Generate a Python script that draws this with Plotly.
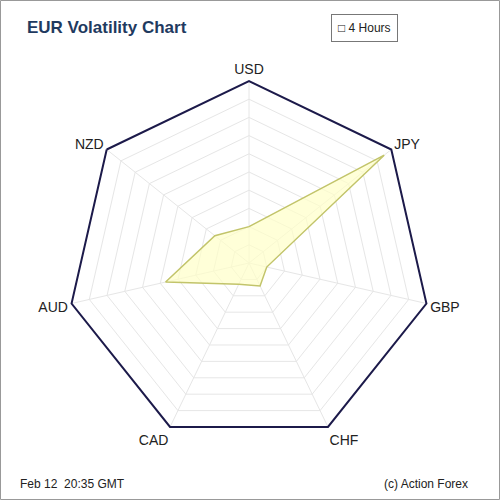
import plotly.graph_objects as go

# EUR volatility against each currency (0..1 scale)
currencies = ['USD', 'JPY', 'GBP', 'CHF', 'CAD', 'AUD', 'NZD']
volatility = [0.20, 0.95, 0.10, 0.14, 0.13, 0.47, 0.24]

fig = go.Figure()

fig.add_trace(go.Scatterpolar(
    r=volatility + volatility[:1],
    theta=currencies + currencies[:1],
    fill='toself',
    fillcolor='rgba(255,255,200,0.7)',
    line=dict(color='#c2c46a', width=1.5),
    mode='lines',
    hoverinfo='skip'
))

fig.update_layout(
    width=500, height=500,
    margin=dict(l=0, r=0, t=0, b=0),
    paper_bgcolor='white',
    showlegend=False,
    font=dict(family='Liberation Sans, Arial', size=14, color='#222'),
    polar=dict(
        domain=dict(x=[0.134, 0.862], y=[0.11, 0.838]),
        gridshape='linear',
        bgcolor='white',
        radialaxis=dict(range=[0, 1], dtick=0.1, showticklabels=False, ticks='',
                        showline=False, gridcolor='#e6e6e6', gridwidth=1),
        angularaxis=dict(direction='clockwise', rotation=90, showline=True,
                         linecolor='#1c1a4a', linewidth=2, gridcolor='#e6e6e6',
                         ticks='', tickfont=dict(size=14, color='#222')),
    ),
    shapes=[
        dict(type='rect', xref='paper', yref='paper', x0=0.001, x1=0.999, y0=0.001, y1=0.999,
             line=dict(color='#999', width=1)),
    ],
    annotations=[
        dict(text='<b>EUR Volatility Chart</b>', xref='paper', yref='paper', x=0.05, y=0.945,
             xanchor='left', yanchor='middle', showarrow=False,
             font=dict(size=17, color='#1f3a60')),
        dict(text='\u25a1 4 Hours', xref='paper', yref='paper', x=0.728, y=0.945,
             xanchor='center', yanchor='middle', showarrow=False, borderpad=6,
             bordercolor='#777', borderwidth=1, bgcolor='white',
             font=dict(size=12, color='#222')),
        dict(text='Feb 12  20:35 GMT', xref='paper', yref='paper', x=0.036, y=0.033,
             xanchor='left', yanchor='middle', showarrow=False,
             font=dict(size=12, color='#222')),
        dict(text='(c) Action Forex', xref='paper', yref='paper', x=0.94, y=0.033,
             xanchor='right', yanchor='middle', showarrow=False,
             font=dict(size=12, color='#222')),
    ],
)

fig.write_html('out.html', config={'displayModeBar': False},
               post_script="document.body.style.margin='0';")
